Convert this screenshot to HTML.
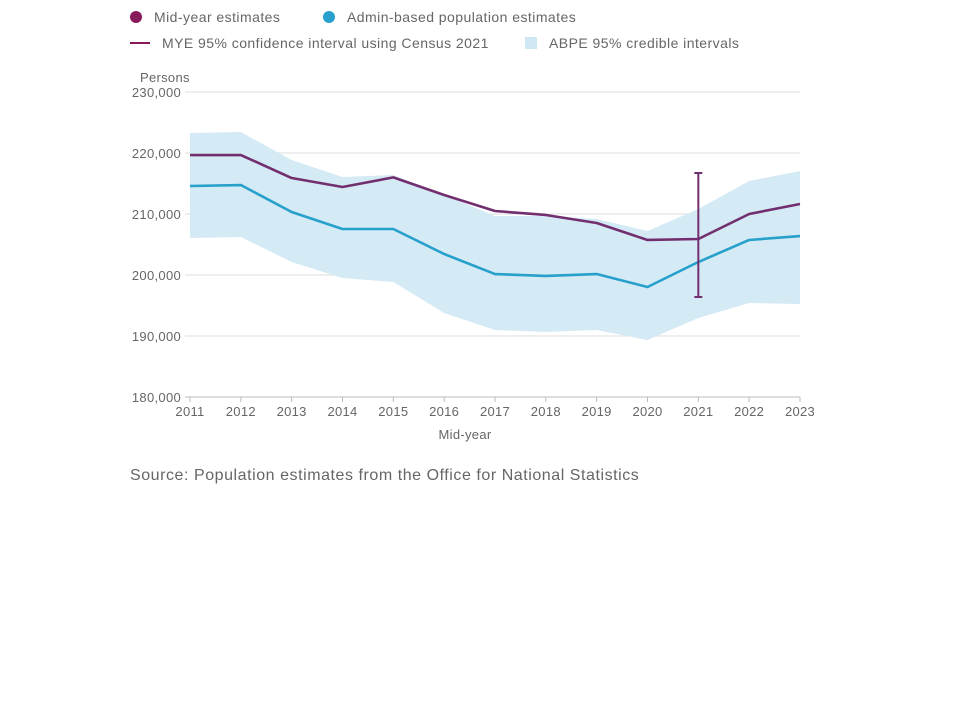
<!DOCTYPE html>
<html><head><meta charset="utf-8"><style>
body{margin:0;background:#fff;font-family:"Liberation Sans",sans-serif;}
svg text{font-family:"Liberation Sans",sans-serif;fill:#666;}
</style></head><body>
<svg width="960" height="720" viewBox="0 0 960 720">
<g font-size="14" letter-spacing="0.45">
<g><circle cx="136" cy="17" r="6" fill="#871a5b"/><text x="154" y="22">Mid-year estimates</text></g>
<g><circle cx="329" cy="17" r="6" fill="#27a0cc"/><text x="347" y="22">Admin-based population estimates</text></g>
<g><line x1="130" y1="43" x2="150" y2="43" stroke="#871a5b" stroke-width="2"/><text x="162" y="48">MYE 95% confidence interval using Census 2021</text></g>
<g><rect x="525" y="37" width="12" height="12" fill="#cfe7f3"/><text x="549" y="48">ABPE 95% credible intervals</text></g>
</g>
<text x="140" y="82" font-size="13" letter-spacing="0.3">Persons</text>
<g id="grid" letter-spacing="0.3"></g><g id="plot"></g>
<text x="465" y="439" font-size="13" letter-spacing="0.3" text-anchor="middle">Mid-year</text>
<text x="130" y="480" font-size="16" letter-spacing="0.55">Source: Population estimates from the Office for National Statistics</text>
</svg>
<script>
const years=[2011,2012,2013,2014,2015,2016,2017,2018,2019,2020,2021,2022,2023];
const mye=[219670,219670,215900,214430,216000,213110,210490,209840,208520,205740,205900,210000,211640];
const abpe=[214590,214750,210330,207540,207540,203440,200160,199840,200160,198030,202130,205740,206390];
const upper=[223280,223440,218850,216070,216390,213110,209670,209670,209180,207210,210820,215410,217050];
const lower=[206070,206230,202130,199510,198850,193770,190980,190660,190980,189340,192950,195410,195250];
const ciYear=2021, ciLow=196390, ciHigh=216720;
const yTicks=[180000,190000,200000,210000,220000,230000];
const NS='http://www.w3.org/2000/svg';
const X=y=>190+(y-2011)*(610/12);
const Y=v=>397-(v-180000)*305/50000;
function mk(t,a,p){const e=document.createElementNS(NS,t);for(const k in a)e.setAttribute(k,a[k]);p.appendChild(e);return e;}
const grid=document.getElementById('grid'),plot=document.getElementById('plot');
yTicks.forEach(v=>{
const l=mk('line',{x1:185,x2:800,y1:Y(v),y2:Y(v),stroke:v===180000?'#bbb':'#ddd','stroke-width':1},grid);


const t=mk('text',{x:181,y:Y(v)+5,'text-anchor':'end','font-size':13},grid);t.textContent=v.toLocaleString('en-GB');


});
years.forEach(y=>{
const l=mk('line',{x1:X(y),x2:X(y),y1:397,y2:402,stroke:'#bbb'},grid);


const t=mk('text',{x:X(y),y:416,'text-anchor':'middle','font-size':13},grid);t.textContent=y;


});
let d=years.map((y,i)=>(i?'L':'M')+X(y)+','+Y(upper[i])).join('')+years.slice().reverse().map((y,j)=>'L'+X(y)+','+Y(lower[years.length-1-j])).join('')+'Z';
const band=mk('path',{d:d,fill:'#d4eaf5'},plot);


function line(vals,col,name){const p=mk('path',{d:years.map((y,i)=>(i?'L':'M')+X(y)+','+Y(vals[i])).join(''),fill:'none',stroke:col,'stroke-width':2.6,'stroke-linejoin':'round'},plot);

}
line(abpe,'#27a0cc','abpe-line');
line(mye,'#722f6f','mye-line');
const g=mk('g',{stroke:'#722f6f','stroke-width':2},plot);


const cx=X(ciYear);
mk('line',{x1:cx,x2:cx,y1:Y(ciHigh),y2:Y(ciLow)},g);
mk('line',{x1:cx-4,x2:cx+4,y1:Y(ciHigh),y2:Y(ciHigh)},g);
mk('line',{x1:cx-4,x2:cx+4,y1:Y(ciLow),y2:Y(ciLow)},g);
</script>
</body></html>
